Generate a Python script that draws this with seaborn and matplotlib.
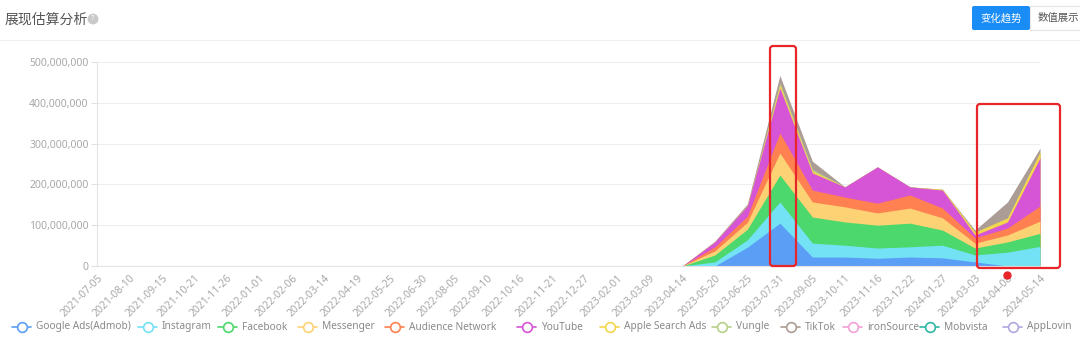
import numpy as np
import matplotlib
matplotlib.use("Agg")
import matplotlib.pyplot as plt
from matplotlib.lines import Line2D
from matplotlib.patches import FancyBboxPatch
from matplotlib.ticker import FuncFormatter
from matplotlib.transforms import IdentityTransform
import seaborn as sns

# ---- data (impressions, millions) ----
dates = [
    "2021-07-05", "2021-08-10", "2021-09-15", "2021-10-21", "2021-11-26",
    "2022-01-01", "2022-02-06", "2022-03-14", "2022-04-19", "2022-05-25",
    "2022-06-30", "2022-08-05", "2022-09-10", "2022-10-16", "2022-11-21",
    "2022-12-27", "2023-02-01", "2023-03-09", "2023-04-14", "2023-05-20",
    "2023-06-25", "2023-07-31", "2023-09-05", "2023-10-11", "2023-11-16",
    "2023-12-22", "2024-01-27", "2024-03-03", "2024-04-08", "2024-05-14",
]

google_ads = [0, 0, 0, 0, 0, 0, 0, 0, 0, 0, 0, 0, 0, 0, 0, 0, 0, 0, 0, 0, 46, 105, 22, 22, 19, 22, 20, 10, 0, 0]
instagram = [0, 0, 0, 0, 0, 0, 0, 0, 0, 0, 0, 0, 0, 0, 0, 0, 0, 0, 0, 10, 18, 52, 34, 29, 25, 25, 31, 17, 34, 48]
facebook = [0, 0, 0, 0, 0, 0, 0, 0, 0, 0, 0, 0, 0, 0, 0, 0, 0, 0, 0, 17, 26, 66, 64, 57, 56, 58, 37, 17, 25, 32]
messenger = [0, 0, 0, 0, 0, 0, 0, 0, 0, 0, 0, 0, 0, 0, 0, 0, 0, 0, 0, 10, 17, 54, 37, 37, 30, 37, 30, 12, 17, 30]
audience_network = [0, 0, 0, 0, 0, 0, 0, 0, 0, 0, 0, 0, 0, 0, 0, 0, 0, 0, 0, 10, 15, 49, 29, 24, 24, 32, 24, 13, 17, 37]
youtube = [0, 0, 0, 0, 0, 0, 0, 0, 0, 0, 0, 0, 0, 0, 0, 0, 0, 0, 0, 12, 25, 110, 42, 25, 89, 20, 44, 7, 15, 118]
apple_search_ads = [0, 0, 0, 0, 0, 0, 0, 0, 0, 0, 0, 0, 0, 0, 0, 0, 0, 0, 0, 0, 0, 8, 5, 0, 0, 0, 2, 7, 10, 14]
vungle = [0, 0, 0, 0, 0, 0, 0, 0, 0, 0, 0, 0, 0, 0, 0, 0, 0, 0, 0, 0, 0, 5, 4, 0, 0, 0, 0, 0, 0, 0]
tiktok = [0, 0, 0, 0, 0, 0, 0, 0, 0, 0, 0, 0, 0, 0, 0, 0, 0, 0, 0, 2, 5, 18, 20, 0, 0, 0, 0, 5, 39, 10]
ironsource = [0, 0, 0, 0, 0, 0, 0, 0, 0, 0, 0, 0, 0, 0, 0, 0, 0, 0, 0, 0, 0, 0, 0, 0, 0, 0, 0, 0, 0, 0]
mobvista = [0, 0, 0, 0, 0, 0, 0, 0, 0, 0, 0, 0, 0, 0, 0, 0, 0, 0, 0, 0, 0, 0, 0, 0, 0, 0, 0, 0, 0, 0]
applovin = [0, 0, 0, 0, 0, 0, 0, 0, 0, 0, 0, 0, 0, 0, 0, 0, 0, 0, 0, 0, 0, 0, 0, 0, 0, 0, 0, 0, 0, 0]

series_names = [
    "Google Ads(Admob)", "Instagram", "Facebook", "Messenger", "Audience Network",
    "YouTube", "Apple Search Ads", "Vungle", "TikTok", "ironSource", "Mobvista", "AppLovin",
]
series_values = [
    google_ads, instagram, facebook, messenger, audience_network, youtube,
    apple_search_ads, vungle, tiktok, ironsource, mobvista, applovin,
]
series_colors = [
    "#5B9EF6", "#73E2F5", "#4CD86C", "#FDD274", "#FF8050", "#D654D6",
    "#F3D64C", "#B7D08A", "#AC9C96", "#F2A0D6", "#2FB6A3", "#B3A6E0",
]

W, H = 1080, 342

# ---- styling ----
sns.set_theme(style="white")
plt.rcParams["font.family"] = ["Noto Sans", "Noto Sans CJK SC", "DejaVu Sans"]
palette = sns.color_palette(series_colors)
cjk = ["Noto Sans CJK SC", "DejaVu Sans"]

fig = plt.figure(figsize=(W / 100, H / 100), dpi=100)
ax = fig.add_axes([97 / W, 1 - 266 / H, (1040 - 97) / W, (266 - 62) / H])

x = np.arange(len(dates))
stack = np.cumsum(np.array(series_values, dtype=float) * 1e6, axis=0)

# paint cumulative layers from the top down so neighbouring bands share edges
for k in range(len(series_values) - 1, -1, -1):
    if not np.any(series_values[k]):
        continue
    ax.fill_between(x, 0, stack[k], color=palette[k], linewidth=0, zorder=2)

ax.set_xlim(0, len(dates) - 1)
ax.set_ylim(0, 500e6)
ax.set_yticks(np.arange(0, 501e6, 100e6))
ax.yaxis.set_major_formatter(FuncFormatter(lambda v, p: f"{int(v):,}"))
ax.set_xticks(x)
ax.set_xticklabels(dates, rotation=45, ha="right", rotation_mode="anchor")

ax.grid(axis="y", color="#EEEEEE", linewidth=0.8, zorder=0)
ax.grid(axis="x", visible=False)
for side in ("top", "right"):
    ax.spines[side].set_visible(False)
for side in ("left", "bottom"):
    ax.spines[side].set_color("#E3E3E3")
    ax.spines[side].set_linewidth(0.8)
ax.tick_params(axis="y", colors="#E0E0E0", length=4, width=0.8, labelcolor="#A8A8A8",
               labelsize=7.5, pad=2, left=True)
ax.tick_params(axis="x", colors="#E0E0E0", length=0, labelcolor="#A8A8A8",
               labelsize=7.5, pad=5, bottom=True)

# ---- helpers in pixel coordinates (origin top-left) ----
def px_box(left, top, right, bottom, **kw):
    patch = FancyBboxPatch((left, H - bottom), right - left, bottom - top,
                           transform=IdentityTransform(), **kw)
    fig.patches.append(patch)
    return patch


# ---- highlight boxes ----
red = "#E8262A"
box_kw = dict(boxstyle="round,pad=0,rounding_size=3", fill=False, edgecolor=red,
              linewidth=1.6, zorder=5)
px_box(770, 46, 796, 266, **box_kw)
px_box(977, 104, 1060, 268, **box_kw)
ax.plot([dates.index("2024-04-08")], [-22e6], marker="o", color=red, markersize=5,
        clip_on=False, zorder=6)

# ---- header ----
fig.text(5 / W, 1 - 20 / H, "展现估算分析", fontsize=10, color="#555555",
         va="center", ha="left", family=cjk)
fig.text(93 / W, 1 - 19 / H, "?", fontsize=5.5, color="white", ha="center", va="center",
         fontweight="bold",
         bbox=dict(boxstyle="circle,pad=0.25", facecolor="#C9C9C9", edgecolor="none"))
fig.add_artist(Line2D([0, 1], [1 - 39.5 / H] * 2, color="#F0F0F0", linewidth=0.8,
                      transform=fig.transFigure))

px_box(972, 6, 1030, 30, boxstyle="round,pad=0,rounding_size=2",
       facecolor="#1A8CF5", edgecolor="none")
fig.text(1001 / W, 1 - 18 / H, "变化趋势", fontsize=7.5, color="white",
         ha="center", va="center", family=cjk)
px_box(1030, 6, 1090, 30, boxstyle="square,pad=0", facecolor="white",
       edgecolor="#E6E6E6", linewidth=0.8)
fig.text(1058 / W, 1 - 18 / H, "数值展示", fontsize=7.5, color="#555555",
         ha="center", va="center", family=cjk)

# ---- legend row: line + hollow circle handle followed by the series name ----
legend_left = [12, 138, 218, 298, 385, 517, 600, 712, 781, 843, 920, 1003]
legend_y = H - 327
for k, name in enumerate(series_names):
    x0 = legend_left[k]
    fig.add_artist(Line2D([x0, x0 + 19], [legend_y, legend_y], color=palette[k],
                          linewidth=1.2, transform=IdentityTransform()))
    fig.add_artist(Line2D([x0 + 9.5], [legend_y], marker="o", markersize=7,
                          markerfacecolor="white", markeredgecolor=palette[k],
                          markeredgewidth=1.2, linestyle="none",
                          transform=IdentityTransform()))
    fig.text((x0 + 24) / W, legend_y / H, name, fontsize=7.3, color="#8A8A8A",
             ha="left", va="center")

fig.savefig("out.png", dpi=100)
